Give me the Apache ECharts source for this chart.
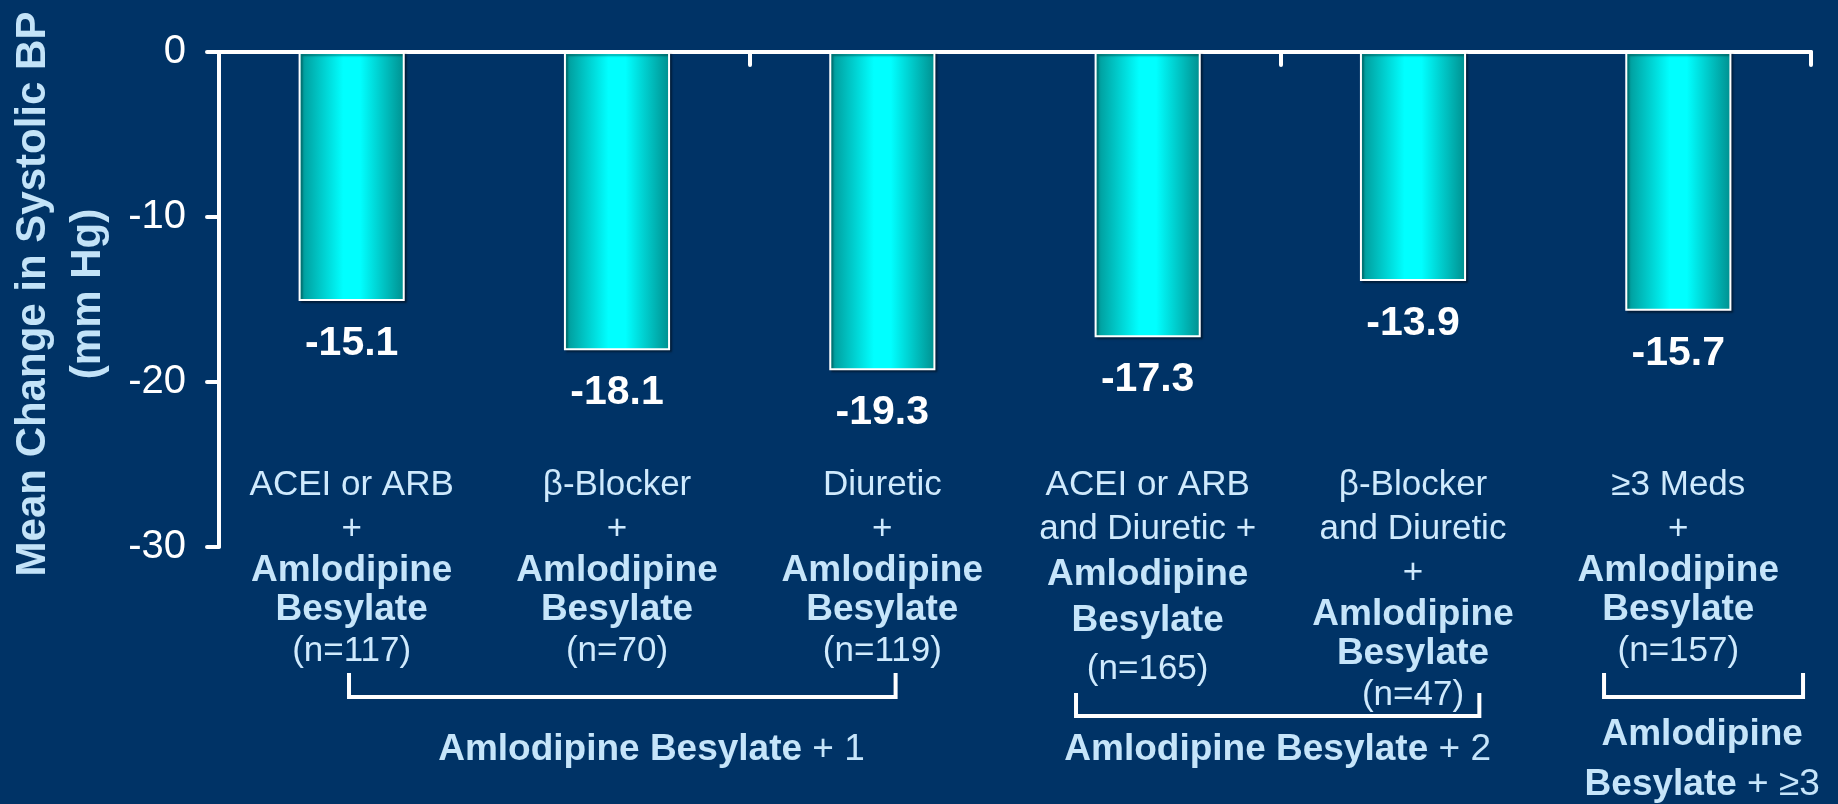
<!DOCTYPE html>
<html>
<head>
<meta charset="utf-8">
<script src="https://cdn.jsdelivr.net/npm/echarts@6/dist/echarts.min.js"></script>
<style>
  html, body { margin: 0; padding: 0; background: #003366; }
  #chart { width: 1838px; height: 804px; }
</style>
</head>
<body>
<div id="chart"></div>
<script>
// Regimen text shown above the bold drug name for each bar
const drugLines = [
  ['ACEI or ARB', '+'],
  ['β-Blocker', '+'],
  ['Diuretic', '+'],
  ['ACEI or ARB', 'and Diuretic +'],
  ['β-Blocker', 'and Diuretic', '+'],
  ['≥3 Meds', '+']
];
const drugName = ['Amlodipine', 'Besylate'];
const sampleSizes = [117, 70, 119, 165, 47, 157];
const meanChange = [-15.1, -18.1, -19.3, -17.3, -13.9, -15.7];
const yTicks = [0, -10, -20, -30];
const groupNames = ['Amlodipine Besylate + 1', 'Amlodipine Besylate + 2', 'Amlodipine Besylate + ≥3'];
const groupMembers = [[0, 1, 2], [3, 4], [5]];

const categories = drugLines.map((l, i) =>
  l.join(' ') + ' ' + drugName.join(' ') + ' (n=' + sampleSizes[i] + ')');

const FONT = "'Liberation Sans', Arial, Helvetica, sans-serif";
const LIGHT = '#cfeafd';
const LIGHT_BOLD = '#c6e5fa';

// Bracket geometry below the category labels (in category units / pixels)
const groupLayout = [
  { from: -0.01, to: 2.05, top: 673, bottom: 697, labelAt: 1.13, labelY: 750, wrap: false },
  { from: 2.73, to: 4.25, top: 693, bottom: 716, labelAt: 3.49, labelY: 750, wrap: false },
  { from: 4.72, to: 5.47, top: 673, bottom: 697, labelAt: 5.09, labelY: 760, wrap: true }
];

const chart = echarts.init(document.getElementById('chart'), null, { renderer: 'canvas' });

const barGradient = new echarts.graphic.LinearGradient(0, 0, 1, 0, [
  { offset: 0, color: '#009494' },
  { offset: 0.42, color: '#00ffff' },
  { offset: 0.58, color: '#00ffff' },
  { offset: 1, color: '#008e8e' }
]);

chart.setOption({
  backgroundColor: '#003366',
  animation: false,
  grid: { left: 219, right: 27, top: 52, bottom: 257.5, outerBoundsMode: 'none', containLabel: false },
  xAxis: [
    {
      type: 'category',
      data: categories,
      position: 'top',
      axisLine: { show: true, onZero: false, lineStyle: { color: '#ffffff', width: 4, cap: 'round' } },
      axisTick: { show: true, inside: true, length: 13, lineStyle: { color: '#ffffff', width: 4, cap: 'round' } },
      axisLabel: { show: false },
      splitLine: { show: false }
    },
    {
      type: 'category',
      data: categories,
      position: 'bottom',
      offset: -83,
      axisLine: { show: false },
      axisTick: { show: false },
      splitLine: { show: false },
      axisLabel: {
        interval: 0,
        margin: 0,
        verticalAlign: 'top',
        align: 'center',
        formatter: (value, idx) => {
          const wide = idx === 3;
          const lines = drugLines[idx].map(t => '{r|' + t + '}');
          const b = wide ? 'bw' : 'b';
          drugName.forEach(w => lines.push('{' + b + '|' + w + '}'));
          lines.push('{' + (wide ? 'nw' : 'r') + '|(n=' + sampleSizes[idx] + ')}');
          return lines.join('\n');
        },
        rich: {
          r: { fontFamily: FONT, fontSize: 35, color: LIGHT, lineHeight: 44, align: 'center' },
          b: { fontFamily: FONT, fontSize: 37, fontWeight: 'bold', color: LIGHT_BOLD, lineHeight: 39, align: 'center' },
          bw: { fontFamily: FONT, fontSize: 37, fontWeight: 'bold', color: LIGHT_BOLD, lineHeight: 46, align: 'center' },
          nw: { fontFamily: FONT, fontSize: 35, color: LIGHT, lineHeight: 52, align: 'center' }
        }
      }
    }
  ],
  yAxis: {
    type: 'value',
    min: Math.min(...yTicks),
    max: Math.max(...yTicks),
    interval: yTicks[0] - yTicks[1],
    axisLine: { show: true, lineStyle: { color: '#ffffff', width: 4, cap: 'round' } },
    axisTick: { show: true, length: 12, lineStyle: { color: '#ffffff', width: 4, cap: 'round' } },
    splitLine: { show: false },
    axisLabel: { color: '#ffffff', fontFamily: FONT, fontSize: 40, margin: 33 }
  },
  series: [{
    type: 'bar',
    xAxisIndex: 0,
    data: meanChange,
    barWidth: '40%',
    itemStyle: {
      color: barGradient,
      borderColor: '#ffffff',
      borderWidth: 2,
      shadowColor: 'rgba(0,0,0,0.35)',
      shadowOffsetX: 2,
      shadowOffsetY: 2,
      shadowBlur: 2
    },
    label: {
      show: true,
      position: 'bottom',
      distance: 22,
      color: '#ffffff',
      fontFamily: FONT,
      fontSize: 41,
      fontWeight: 'bold',
      formatter: p => p.value.toFixed(1)
    }
  }]
});

// Bracket and group label positions follow the category axis
const x0 = chart.convertToPixel({ xAxisIndex: 0 }, categories[0]);
const x1 = chart.convertToPixel({ xAxisIndex: 0 }, categories[1]);
const band = x1 - x0;
const catX = f => x0 + f * band;

const graphics = [{
  type: 'text',
  x: 61,
  y: 294,
  rotation: Math.PI / 2,
  style: {
    text: 'Mean Change in Systolic BP\n(mm Hg)',
    font: 'bold 42px ' + FONT,
    fill: '#c3e3f8',
    align: 'center',
    verticalAlign: 'middle',
    lineHeight: 55
  }
}];

groupLayout.forEach((g, i) => {
  const xa = catX(g.from), xb = catX(g.to);
  graphics.push({
    type: 'polyline',
    shape: { points: [[xa, g.top], [xa, g.bottom], [xb, g.bottom], [xb, g.top]] },
    style: { stroke: '#ffffff', lineWidth: 4, fill: null, lineJoin: 'miter' }
  });
  const name = groupNames[i];
  const boldPart = drugName.join(' ');
  const rest = name.slice(boldPart.length);
  const text = g.wrap
    ? '{b|' + drugName[0] + '}\n{b|' + drugName[1] + '}{r|' + rest + '}'
    : '{b|' + boldPart + '}{r|' + rest + '}';
  graphics.push({
    type: 'text',
    x: catX(g.labelAt),
    y: g.labelY,
    style: {
      text: text,
      align: 'center',
      verticalAlign: 'middle',
      rich: {
        b: { font: 'bold 37px ' + FONT, fill: LIGHT_BOLD, lineHeight: 50 },
        r: { font: '37px ' + FONT, fill: LIGHT_BOLD, lineHeight: 50 }
      }
    }
  });
});

chart.setOption({ graphic: graphics });
</script>
</body>
</html>
